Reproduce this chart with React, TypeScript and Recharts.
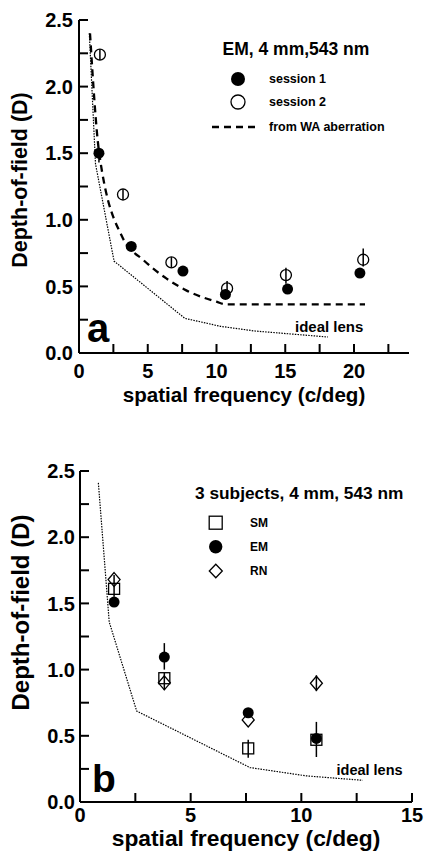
import React from 'react';
import { ComposedChart, Scatter, Line, XAxis, YAxis, ErrorBar } from 'recharts';

const FONT = '"Liberation Sans", Arial, Helvetica, sans-serif';

// ---------- Panel a : EM, 4 mm, 543 nm ----------
const aXTicks = [0, 2.5, 5, 7.5, 10, 12.5, 15, 17.5, 20, 22.5];
const aYTicks = [0, 0.25, 0.5, 0.75, 1, 1.25, 1.5, 1.75, 2, 2.25, 2.5];

const aS1Freq = [1.45, 3.8, 7.56, 10.65, 15.17, 20.43];
const aS1Dof = [1.5, 0.8, 0.615, 0.44, 0.48, 0.6];
const aS1ErrLo = [0.07, 0, 0, 0, 0, 0];
const aS1ErrHi = [0.0, 0, 0, 0, 0, 0];

const aS2Freq = [1.52, 3.2, 6.72, 10.77, 15.05, 20.67];
const aS2Dof = [2.24, 1.19, 0.68, 0.485, 0.585, 0.7];
const aS2ErrLo = [0.04, 0.04, 0.04, 0.07, 0.065, 0.05];
const aS2ErrHi = [0.04, 0.04, 0.04, 0.055, 0.055, 0.085];

const aWAFreq = [0.8, 1.47, 3.2, 4.66, 6.35, 7.8, 10.0, 10.7, 20.8];
const aWADof = [2.4, 1.5, 0.86, 0.7, 0.56, 0.47, 0.385, 0.365, 0.365];

const aIdealFreq = [0.75, 1.2, 2.55, 7.7, 10.3, 12.8, 18.1];
const aIdealDof = [2.4, 1.42, 0.69, 0.26, 0.2, 0.165, 0.12];

// ---------- Panel b : 3 subjects, 4 mm, 543 nm ----------
const bXTicks = [0, 2.5, 5, 7.5, 10, 12.5, 15];
const bYTicks = aYTicks;

const bFreq = [1.54, 3.81, 7.6, 10.68];
const bSM = [1.61, 0.935, 0.405, 0.47];
const bSMErrLo = [0.06, 0.09, 0.07, 0];
const bSMErrHi = [0.105, 0.04, 0.065, 0];
const bEM = [1.51, 1.095, 0.674, 0.48];
const bEMErrLo = [0, 0.095, 0, 0.14];
const bEMErrHi = [0, 0.105, 0, 0.125];
const bRN = [1.68, 0.9, 0.62, 0.897];
const bRNErrLo = [0, 0, 0, 0.06];
const bRNErrHi = [0, 0, 0, 0.06];

const bIdealFreq = [0.83, 1.32, 2.56, 7.68, 10.24, 12.77];
const bIdealDof = [2.41, 1.36, 0.687, 0.26, 0.197, 0.164];

const zip = (xs: number[], ys: number[], lo?: number[], hi?: number[]) =>
  xs.map((x, i) => ({ x, y: ys[i], e: [lo ? lo[i] : 0, hi ? hi[i] : 0] }));

// ---------- shapes ----------
const filledCircle = (r: number) => (p: any) => <circle cx={p.cx} cy={p.cy} r={r} fill="#000" />;
const openCircle = (r: number) => (p: any) => (
  <circle cx={p.cx} cy={p.cy} r={r} fill="none" stroke="#000" strokeWidth={1.3} />
);
const openSquare = (s: number) => (p: any) => (
  <rect x={p.cx - s / 2} y={p.cy - s / 2} width={s} height={s} fill="none" stroke="#000" strokeWidth={1.3} />
);
const openDiamond = (w: number, h: number) => (p: any) => (
  <polygon
    points={`${p.cx},${p.cy - h} ${p.cx + w},${p.cy} ${p.cx},${p.cy + h} ${p.cx - w},${p.cy}`}
    fill="none"
    stroke="#000"
    strokeWidth={1.3}
  />
);

const XLabel = (props: any) => {
  const vb = props.viewBox || {};
  return (
    <text
      x={vb.x + vb.width / 2}
      y={vb.y + props.dy}
      textAnchor="middle"
      fontFamily={FONT}
      fontWeight={700}
      fontSize={props.size}
      fill="#000"
    >
      {props.text}
    </text>
  );
};

const YLabel = (props: any) => {
  const vb = props.viewBox || {};
  const x = vb.x + props.dx;
  const y = vb.y + vb.height / 2 + props.dy;
  return (
    <text
      x={x}
      y={y}
      transform={`rotate(-90 ${x} ${y})`}
      textAnchor="middle"
      fontFamily={FONT}
      fontWeight={700}
      fontSize={props.size}
      fill="#000"
    >
      {props.text}
    </text>
  );
};

const tickStyle = { fill: '#000', fontSize: 20, fontWeight: 700, fontFamily: FONT };
const lineStyle = { stroke: '#000', strokeWidth: 2 };
const fmtX = (v: number) => (Math.abs(v % 5) < 1e-9 ? String(v) : '');
const fmtY = (v: number) => (Math.round(v * 100) % 50 === 0 ? v.toFixed(1) : '');

function PanelA() {
  return (
    <ComposedChart width={424} height={425} margin={{ top: 20, right: 15, left: 9, bottom: 22 }}>
      <XAxis
        dataKey="x"
        type="number"
        domain={[0, 24]}
        ticks={aXTicks}
        interval={0}
        tickFormatter={fmtX}
        tickSize={-9}
        tickMargin={20}
        height={50}
        axisLine={lineStyle}
        tickLine={lineStyle}
        tick={tickStyle}
        label={<XLabel text="spatial frequency (c/deg)" dy={48.5} size={20.6} />}
      />
      <XAxis
        xAxisId="top"
        orientation="top"
        type="number"
        domain={[0, 24]}
        ticks={aXTicks}
        interval={0}
        tickFormatter={() => ''}
        tickSize={-9}
        height={0}
        axisLine={lineStyle}
        tickLine={lineStyle}
      />
      <YAxis
        dataKey="y"
        type="number"
        domain={[0, 2.5]}
        ticks={aYTicks}
        interval={0}
        tickFormatter={fmtY}
        tickSize={-9}
        tickMargin={15}
        width={70}
        axisLine={lineStyle}
        tickLine={lineStyle}
        tick={tickStyle}
        label={<YLabel text="Depth-of-field (D)" dx={18} dy={-6.5} size={21.5} />}
      />
      <YAxis
        yAxisId="right"
        orientation="right"
        type="number"
        domain={[0, 2.5]}
        ticks={aYTicks}
        interval={0}
        tickFormatter={() => ''}
        tickSize={-9}
        width={0}
        axisLine={lineStyle}
        tickLine={lineStyle}
      />
      <Line
        data={zip(aIdealFreq, aIdealDof)}
        dataKey="y"
        type="linear"
        stroke="#000"
        strokeWidth={1.2}
        strokeDasharray="1.5 1.2"
        dot={false}
        activeDot={false}
        isAnimationActive={false}
      />
      <Line
        data={zip(aWAFreq, aWADof)}
        dataKey="y"
        type="monotone"
        stroke="#000"
        strokeWidth={2.3}
        strokeDasharray="7 5"
        dot={false}
        activeDot={false}
        isAnimationActive={false}
      />
      <Scatter data={zip(aS2Freq, aS2Dof, aS2ErrLo, aS2ErrHi)} dataKey="y" shape={openCircle(5.5)} isAnimationActive={false}>
        <ErrorBar dataKey="e" direction="y" width={0} stroke="#000" strokeWidth={1.5} />
      </Scatter>
      <Scatter data={zip(aS1Freq, aS1Dof, aS1ErrLo, aS1ErrHi)} dataKey="y" shape={filledCircle(5.5)} isAnimationActive={false}>
        <ErrorBar dataKey="e" direction="y" width={0} stroke="#000" strokeWidth={1.5} />
      </Scatter>
    </ComposedChart>
  );
}

function PanelB() {
  return (
    <ComposedChart width={424} height={426} margin={{ top: 46, right: 12, left: 10, bottom: 4 }}>
      <XAxis
        dataKey="x"
        type="number"
        domain={[0, 15]}
        ticks={bXTicks}
        interval={0}
        tickFormatter={fmtX}
        tickSize={-9}
        tickMargin={15}
        height={45}
        axisLine={lineStyle}
        tickLine={lineStyle}
        tick={tickStyle}
        label={<XLabel text="spatial frequency (c/deg)" dy={44} size={22.8} />}
      />
      <XAxis
        xAxisId="top"
        orientation="top"
        type="number"
        domain={[0, 15]}
        ticks={bXTicks}
        interval={0}
        tickFormatter={() => ''}
        tickSize={-9}
        height={0}
        axisLine={lineStyle}
        tickLine={lineStyle}
      />
      <YAxis
        dataKey="y"
        type="number"
        domain={[0, 2.5]}
        ticks={bYTicks}
        interval={0}
        tickFormatter={fmtY}
        tickSize={-9}
        tickMargin={14}
        width={70}
        axisLine={lineStyle}
        tickLine={lineStyle}
        tick={tickStyle}
        label={<YLabel text="Depth-of-field (D)" dx={19} dy={-24} size={24} />}
      />
      <YAxis
        yAxisId="right"
        orientation="right"
        type="number"
        domain={[0, 2.5]}
        ticks={bYTicks}
        interval={0}
        tickFormatter={() => ''}
        tickSize={-9}
        width={0}
        axisLine={lineStyle}
        tickLine={lineStyle}
      />
      <Line
        data={zip(bIdealFreq, bIdealDof)}
        dataKey="y"
        type="linear"
        stroke="#000"
        strokeWidth={1.2}
        strokeDasharray="1.5 1.2"
        dot={false}
        activeDot={false}
        isAnimationActive={false}
      />
      <Scatter data={zip(bFreq, bSM, bSMErrLo, bSMErrHi)} dataKey="y" shape={openSquare(11)} isAnimationActive={false}>
        <ErrorBar dataKey="e" direction="y" width={0} stroke="#000" strokeWidth={1.5} />
      </Scatter>
      <Scatter data={zip(bFreq, bRN, bRNErrLo, bRNErrHi)} dataKey="y" shape={openDiamond(6, 7)} isAnimationActive={false}>
        <ErrorBar dataKey="e" direction="y" width={0} stroke="#000" strokeWidth={1.5} />
      </Scatter>
      <Scatter data={zip(bFreq, bEM, bEMErrLo, bEMErrHi)} dataKey="y" shape={filledCircle(5.5)} isAnimationActive={false}>
        <ErrorBar dataKey="e" direction="y" width={0} stroke="#000" strokeWidth={1.5} />
      </Scatter>
    </ComposedChart>
  );
}

const txt = (x: number, y: number, s: string, size: number, anchor: 'start' | 'middle' | 'end' = 'start') => (
  <text x={x} y={y} fontFamily={FONT} fontWeight={700} fontSize={size} fill="#000" textAnchor={anchor}>
    {s}
  </text>
);

function Overlay() {
  return (
    <svg width={424} height={851} style={{ position: 'absolute', left: 0, top: 0, pointerEvents: 'none' }}>
      {/* panel a legend */}
      {txt(222.5, 55, 'EM, 4 mm,543 nm', 17.5)}
      <circle cx={238} cy={79} r={7} fill="#000" />
      {txt(269, 83.3, 'session 1', 12.5)}
      <circle cx={238} cy={102} r={7} fill="none" stroke="#000" strokeWidth={1.3} />
      {txt(269, 105.7, 'session 2', 12.5)}
      <line x1={212} y1={127} x2={256} y2={127} stroke="#000" strokeWidth={2.3} strokeDasharray="7 5" />
      {txt(269, 131, 'from WA aberration', 12.5)}
      {txt(87, 342, 'a', 40)}
      {txt(295, 332, 'ideal lens', 15)}

      {/* panel b legend */}
      {txt(195, 499.3, '3 subjects, 4 mm, 543 nm', 17.3)}
      <rect x={209.2} y={516.2} width={13} height={13} fill="none" stroke="#000" strokeWidth={1.3} />
      {txt(250, 527, 'SM', 12)}
      <circle cx={215.7} cy={546.7} r={6.7} fill="#000" />
      {txt(250, 550.7, 'EM', 12)}
      <polygon points="215.8,564.2 222.3,571 215.8,577.8 209.3,571" fill="none" stroke="#000" strokeWidth={1.3} />
      {txt(250, 575, 'RN', 12)}
      {txt(92, 792, 'b', 39)}
      {txt(336.5, 774.5, 'ideal lens', 14.5)}
    </svg>
  );
}

export default function App() {
  return (
    <div style={{ position: 'absolute', left: 0, top: 0, width: 424, height: 851, background: '#fff' }}>
      <div style={{ position: 'absolute', left: 0, top: 0 }}>
        <PanelA />
      </div>
      <div style={{ position: 'absolute', left: 0, top: 425 }}>
        <PanelB />
      </div>
      <Overlay />
    </div>
  );
}
